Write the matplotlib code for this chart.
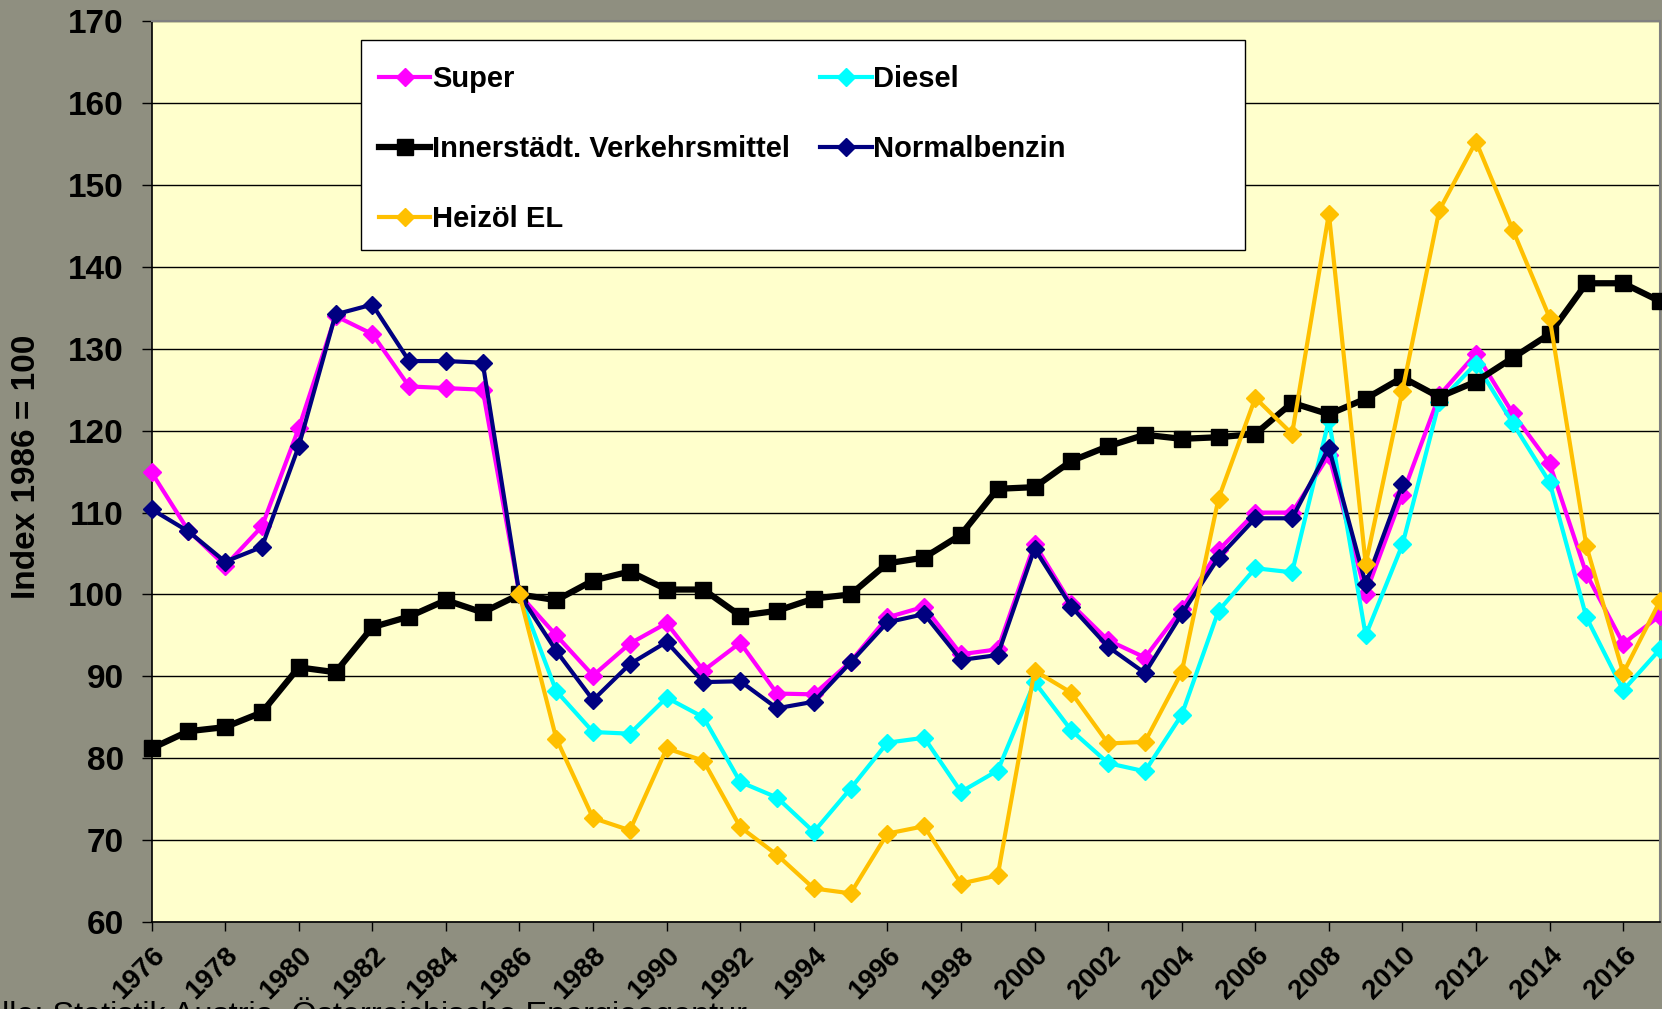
import matplotlib
matplotlib.use("Agg")
import matplotlib.pyplot as plt
import matplotlib.transforms as mtransforms
from matplotlib.patches import Rectangle

# Jahre
years = list(range(1976, 2018))
years_diesel = list(range(1986, 2018))
years_normal = list(range(1976, 2011))

# Index 1986 = 100
super_vals = [114.9, 107.8, 103.5, 108.3, 120.3, 134.0, 131.8, 125.4, 125.2, 125.0,
              100.0, 95.0, 90.1, 94.0, 96.5, 90.7, 94.1, 87.9, 87.8, 91.8,
              97.2, 98.5, 92.7, 93.3, 106.2, 98.8, 94.4, 92.3, 98.2, 105.4,
              110.0, 110.0, 117.0, 100.1, 112.2, 124.3, 129.4, 122.1, 116.0, 102.5,
              94.0, 97.4]
diesel_vals = [100.0, 88.2, 83.2, 83.0, 87.4, 85.0, 77.1, 75.2, 71.0, 76.3,
               81.9, 82.5, 75.9, 78.5, 89.3, 83.4, 79.4, 78.4, 85.3, 98.0,
               103.2, 102.7, 121.3, 95.0, 106.1, 123.5, 128.2, 120.9, 113.7, 97.2,
               88.3, 93.3]
verkehr_vals = [81.2, 83.3, 83.8, 85.6, 91.1, 90.5, 96.0, 97.3, 99.3, 97.8,
                100.0, 99.3, 101.7, 102.8, 100.6, 100.6, 97.4, 98.0, 99.5, 100.0,
                103.8, 104.5, 107.3, 112.9, 113.1, 116.3, 118.1, 119.5, 119.0, 119.2,
                119.6, 123.4, 122.0, 123.9, 126.5, 124.1, 126.0, 128.9, 131.8, 138.0,
                138.0, 135.8]
normal_vals = [110.4, 107.7, 104.0, 105.8, 118.1, 134.2, 135.4, 128.5, 128.5, 128.3,
               100.0, 93.1, 87.1, 91.5, 94.2, 89.3, 89.4, 86.1, 86.9, 91.7,
               96.6, 97.6, 92.0, 92.6, 105.6, 98.5, 93.6, 90.4, 97.6, 104.5,
               109.3, 109.3, 117.9, 101.3, 113.5]
heizoel_vals = [100.0, 82.4, 72.7, 71.2, 81.2, 79.7, 71.6, 68.2, 64.1, 63.5,
                70.8, 71.7, 64.7, 65.7, 90.7, 88.0, 81.8, 82.0, 90.5, 111.7,
                124.0, 119.6, 146.5, 103.7, 124.9, 146.9, 155.3, 144.5, 133.8, 105.9,
                90.4, 99.2]

xtick_years = list(range(1976, 2017, 2))
ytick_vals = list(range(60, 171, 10))

plt.rcParams['font.family'] = ['Liberation Sans', 'DejaVu Sans']

fig = plt.figure(figsize=(16.62, 10.09), dpi=100, facecolor='#8f8f80')
ax = fig.add_axes([0.0912, 0.0862, 0.9076, 0.8928])
ax.set_facecolor('#ffffcc')

l_super, = ax.plot(years, super_vals, color='#ff00ff', lw=3, marker='D', ms=9,
                   label='Super', clip_on=False, zorder=3)
l_diesel, = ax.plot(years_diesel, diesel_vals, color='#00ffff', lw=3, marker='D', ms=9,
                    label='Diesel', clip_on=False, zorder=3)
l_verk, = ax.plot(years, verkehr_vals, color='black', lw=4.5, marker='s', ms=12,
                  label='Innerstädt. Verkehrsmittel', clip_on=False, zorder=3)
l_normal, = ax.plot(years_normal, normal_vals, color='#000080', lw=3, marker='D', ms=9,
                    label='Normalbenzin', clip_on=False, zorder=3)
l_heiz, = ax.plot(years_diesel, heizoel_vals, color='#ffc000', lw=3, marker='D', ms=9,
                  label='Heizöl EL', clip_on=False, zorder=3)

ax.set_xlim(1976, 2017)
ax.set_ylim(60, 170)
ax.set_xticks(xtick_years)
ax.set_xticklabels([str(y) for y in xtick_years], rotation=45, ha='right', va='top',
                   rotation_mode='anchor', fontsize=20, fontweight='bold')
shift = mtransforms.ScaledTranslation(4 / 72, 0, fig.dpi_scale_trans)
for lab in ax.get_xticklabels():
    lab.set_transform(lab.get_transform() + shift)
ax.set_yticks(ytick_vals)
ax.set_yticklabels([str(v) for v in ytick_vals], fontsize=24, fontweight='bold')
ax.tick_params(axis='x', length=6.5, width=1, direction='out', pad=8)
ax.tick_params(axis='y', length=7, width=1, direction='out', pad=13)
ax.yaxis.grid(True, color='black', lw=1)
ax.set_axisbelow(True)
for s in ['top', 'right']:
    ax.spines[s].set_color('#808080')
    ax.spines[s].set_linewidth(1.5)
for s in ['left', 'bottom']:
    ax.spines[s].set_color('black')
    ax.spines[s].set_linewidth(1.2)

fig.text(27 / 1662, 1 - 467 / 1009, 'Index 1986 = 100', fontsize=24, fontweight='bold',
         rotation=90, ha='center', va='center')

# Legende: Kasten extra, Eintraege ohne Rahmen
box = Rectangle((0.139, 0.746), 0.586, 0.233, transform=ax.transAxes,
                facecolor='white', edgecolor='black', lw=1, zorder=4)
ax.add_patch(box)
leg = ax.legend([l_super, l_verk, l_heiz, l_diesel, l_normal],
                ['Super', 'Innerstädt. Verkehrsmittel', 'Heizöl EL', 'Diesel', 'Normalbenzin'],
                ncol=2, loc='upper left', bbox_to_anchor=(0.151, 0.951),
                frameon=False, borderpad=0, borderaxespad=0,
                handlelength=1.75, handletextpad=0.05, columnspacing=1.05,
                labelspacing=1.43, prop={'size': 21, 'weight': 'bold'})
leg.set_zorder(5)

fig.text(-0.0355, 0.012, 'Quelle: Statistik Austria, Österreichische Energieagentur',
         fontsize=23.3, ha='left', va='top')

fig.savefig('out.png', dpi=100, facecolor=fig.get_facecolor())
